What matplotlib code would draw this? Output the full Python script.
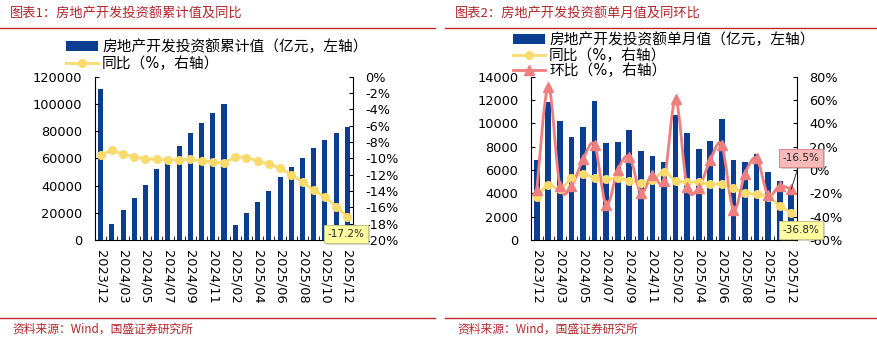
import numpy as np
import matplotlib
matplotlib.use("Agg")
import matplotlib.pyplot as plt
from matplotlib.path import Path
from matplotlib.patches import PathPatch
import matplotlib.patheffects as pe

plt.rcParams['font.family'] = ['DejaVu Sans', 'Noto Sans CJK SC']
plt.rcParams['axes.unicode_minus'] = False

# categories (Jan-Feb reported together)
months = ['2023/12', '2024/02', '2024/03', '2024/04', '2024/05', '2024/06',
          '2024/07', '2024/08', '2024/09', '2024/10', '2024/11', '2024/12',
          '2025/02', '2025/03', '2025/04', '2025/05', '2025/06', '2025/07',
          '2025/08', '2025/09', '2025/10', '2025/11', '2025/12']

# chart 1: cumulative investment (亿元) and YoY (%)
cum_value = [110900, 11842, 22082, 30928, 40632, 52529, 60877, 69284, 78680,
             86309, 93362, 100280, 10720, 19904, 27730, 36234, 46658, 53580,
             60309, 67706, 73563, 78591, 82800]
cum_yoy = [-9.6, -9.0, -9.5, -9.8, -10.1, -10.1, -10.2, -10.2, -10.1, -10.3,
           -10.4, -10.6, -9.8, -9.9, -10.3, -10.7, -11.2, -12.0, -12.9, -13.9,
           -14.7, -15.9, -17.2]

# chart 2: single-month investment (亿元), YoY and MoM (%)
mon_value = [6900, 11800, 10200, 8850, 9700, 11900, 8350, 8400, 9400, 7630,
             7200, 6700, 10680, 9200, 7820, 8510, 10400, 6880, 6720, 7360,
             5860, 5060, 4430]
mon_yoy = [-22.9, -12.8, -16.5, -7.1, -3.7, -6.6, -8.0, -7.1, -9.1, -10.9,
           -8.9, -1.4, -9.1, -10.0, -10.6, -12.0, -12.0, -15.7, -19.4, -20.8,
           -22.9, -30.6, -36.8]
mon_mom = [-17.1, 71.4, -13.7, -13.7, 9.2, 21.4, -30.0, 0.0, 11.4, -19.4,
           -4.3, -9.1, 60.6, -14.3, -15.1, 8.6, 21.4, -34.3, -3.4, 10.0,
           -21.4, -13.7, -16.5]

BLUE = '#0b3d91'
YELLOW = '#f9db6d'
RED = '#ef7f7f'
DARKRED = '#b3262b'


def smooth_path(xs, ys):
    # bezier path through the points (Excel-style smoothed line)
    pts = np.column_stack([xs, ys]).astype(float)
    n = len(pts)
    verts = [pts[0]]
    codes = [Path.MOVETO]
    for i in range(n - 1):
        p0 = pts[i - 1] if i > 0 else pts[i]
        p1 = pts[i]
        p2 = pts[i + 1]
        p3 = pts[i + 2] if i + 2 < n else pts[i + 1]
        verts += [p1 + (p2 - p0) / 6, p2 - (p3 - p1) / 6, p2]
        codes += [Path.CURVE4] * 3
    return Path(verts, codes)


def style_axes(ax, ax2):
    for a in (ax, ax2):
        a.spines['top'].set_visible(False)
        a.tick_params(axis='y', direction='in', length=3, labelsize=9.3, pad=9)
    ax.spines['right'].set_visible(False)
    ax2.spines['left'].set_visible(False)
    ax2.spines['bottom'].set_visible(False)
    x = np.arange(len(months))
    ax.set_xlim(-0.5, len(months) - 0.5)
    ax.set_xticks(x[::2])
    ax.set_xticklabels(months[::2], rotation=-90, fontsize=9.3)
    ax.tick_params(axis='x', which='major', length=0, pad=7)
    ax.set_xticks(np.arange(-0.5, len(months), 1), minor=True)
    ax.tick_params(axis='x', which='minor', direction='in', length=3)


def label_box(ax, text, xy, pos, fc, ec, arrow=False):
    kw = {}
    if arrow:
        kw['arrowprops'] = dict(arrowstyle='-', color='#333333', lw=0.7,
                                shrinkA=0, shrinkB=0)
    t = ax.annotate(text, xy=xy, xytext=pos, textcoords='figure pixels',
                    ha='center', va='center', fontsize=7.5, color='#222222',
                    bbox=dict(boxstyle='square,pad=0.35', fc=fc, ec=ec, lw=0.7),
                    zorder=10, **kw)
    t.get_bbox_patch().set_path_effects(
        [pe.SimplePatchShadow(offset=(1.5, -1.5), alpha=0.25), pe.Normal()])


fig = plt.figure(figsize=(8.77, 3.46), dpi=100)
W, H = 877, 346
x = np.arange(len(months))

# ---------------- chart 1 ----------------
ax1 = fig.add_axes([95 / W, 1 - 240 / H, 258 / W, 163.3 / H])
ax1b = ax1.twinx()
ax1.bar(x, cum_value, width=0.45, color=BLUE, label='房地产开发投资额累计值（亿元，左轴）')
ax1.set_ylim(0, 120000)
ax1.set_yticks(range(0, 120001, 20000))
ax1b.plot(x, cum_yoy, color=YELLOW, lw=2, marker='o', ms=5.5,
          mfc=YELLOW, mec=YELLOW, label='同比（%，右轴）')
ax1b.set_ylim(-20, 0)
ax1b.set_yticks(range(-20, 1, 2))
ax1b.set_yticklabels([f'{v}%' for v in range(-20, 1, 2)])
style_axes(ax1, ax1b)
label_box(ax1b, '-17.2%', (22, -17.2), (346, 112), '#ffffa0', '#c9c48a')

h1, l1 = ax1.get_legend_handles_labels()
h2, l2 = ax1b.get_legend_handles_labels()
fig.legend(h1 + h2, l1 + l2, loc='upper left', bbox_to_anchor=(66 / W, 1 - 39 / H),
           frameon=False, fontsize=10.6, handlelength=2.2, handletextpad=0.25,
           labelspacing=0.15, borderpad=0, borderaxespad=0)

# ---------------- chart 2 ----------------
ax2 = fig.add_axes([531 / W, 1 - 240 / H, 266 / W, 163.3 / H])
ax2b = ax2.twinx()
ax2.bar(x, mon_value, width=0.5, color=BLUE, label='房地产开发投资额单月值（亿元，左轴）')
ax2.set_ylim(0, 14000)
ax2.set_yticks(range(0, 14001, 2000))
ax2b.add_patch(PathPatch(smooth_path(x, mon_yoy), fill=False, ec=YELLOW, lw=2))
ax2b.plot(x, mon_yoy, ls='none', marker='o', ms=5.5, mfc=YELLOW, mec=YELLOW)
ax2b.add_patch(PathPatch(smooth_path(x, mon_mom), fill=False, ec=RED, lw=2))
ax2b.plot(x, mon_mom, ls='none', marker='^', ms=7, mfc=RED, mec=RED)
ax2b.set_ylim(-60, 80)
ax2b.set_yticks(range(-60, 81, 20))
ax2b.set_yticklabels([f'{v}%' for v in range(-60, 81, 20)])
style_axes(ax2, ax2b)
label_box(ax2b, '-16.5%', (22, -16.5), (801, 188), '#f7b9b9', '#d88a8a', arrow=True)
label_box(ax2b, '-36.8%', (22, -36.8), (801, 116), '#ffffa0', '#c9c48a')

hy = plt.Line2D([], [], color=YELLOW, lw=2, marker='o', ms=5.5)
hr = plt.Line2D([], [], color=RED, lw=2, marker='^', ms=7)
hb, lb = ax2.get_legend_handles_labels()
fig.legend(hb + [hy, hr], lb + ['同比（%，右轴）', '环比（%，右轴）'], loc='upper left',
           bbox_to_anchor=(513 / W, 1 - 32 / H), frameon=False, fontsize=10.6,
           handlelength=2.2, handletextpad=0.25, labelspacing=0.05,
           borderpad=0, borderaxespad=0)

# ---------------- titles, rules and sources ----------------
for x0, x1, title in [(0, 435, '图表1：房地产开发投资额累计值及同比'),
                      (445, 877, '图表2：房地产开发投资额单月值及同环比')]:
    fig.text((x0 + 10) / W, 1 - 14 / H, title, color=DARKRED, fontsize=9.5,
             va='center', ha='left', style='italic', family=['Noto Sans CJK SC'])
    fig.add_artist(plt.Line2D([x0 / W, x1 / W], [1 - 28 / H] * 2, color='#c0282d', lw=1))
    fig.add_artist(plt.Line2D([x0 / W, x1 / W], [1 - 318 / H] * 2, color='#c0282d', lw=1))
    fig.text((x0 + 12) / W, 1 - 329 / H, '资料来源：Wind，国盛证券研究所', color=DARKRED,
             fontsize=8.5, va='center', ha='left', style='italic',
             family=['Noto Sans CJK SC', 'DejaVu Sans'])

fig.savefig('out.png', dpi=100)
